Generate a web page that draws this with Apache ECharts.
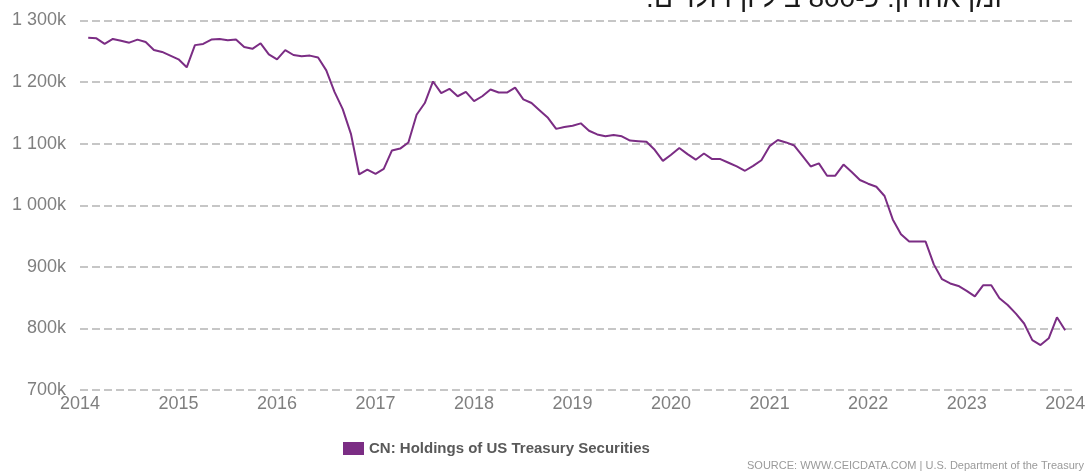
<!DOCTYPE html>
<html>
<head>
<meta charset="utf-8">
<title>CN: Holdings of US Treasury Securities</title>
<script src="https://cdn.jsdelivr.net/npm/echarts@6/dist/echarts.min.js"></script>
<style>
    html, body { margin: 0; padding: 0; background: #fff; }
    #chart { width: 1092px; height: 472px; }
</style>
</head>
<body>
<div id="chart"></div>
<script>
// monthly values, USD bn (shown as "k" of USD mn), Jan 2014 .. Dec 2023
var years = [2014, 2015, 2016, 2017, 2018, 2019, 2020, 2021, 2022, 2023];
var v2014 = [1272, 1271, 1262, 1270, 1267, 1264, 1269, 1265, 1252, 1249, 1243, 1237];
var v2015 = [1224, 1260, 1262, 1269, 1270, 1268, 1269, 1257, 1254, 1263, 1245, 1237];
var v2016 = [1252, 1244, 1242, 1243, 1240, 1219, 1184, 1156, 1116, 1050, 1058, 1051];
var v2017 = [1059, 1089, 1092, 1102, 1147, 1166, 1201, 1182, 1189, 1177, 1184, 1169];
var v2018 = [1177, 1188, 1183, 1183, 1191, 1172, 1166, 1154, 1142, 1124, 1127, 1129];
var v2019 = [1133, 1121, 1115, 1112, 1114, 1112, 1105, 1104, 1103, 1090, 1072, 1082];
var v2020 = [1093, 1083, 1074, 1084, 1075, 1075, 1069, 1063, 1056, 1064, 1073, 1096];
var v2021 = [1106, 1102, 1097, 1080, 1063, 1068, 1048, 1048, 1066, 1054, 1041, 1035];
var v2022 = [1030, 1015, 977, 953, 941, 941, 941, 904, 880, 873, 869, 861];
var v2023 = [852, 870, 870, 849, 838, 824, 808, 781, 773, 784, 818, 797];

var seriesName = 'CN: Holdings of US Treasury Securities';
var yTicks = [700, 800, 900, 1000, 1100, 1200, 1300];
// last line of the (cut off) heading, rtl: the full stop goes on the left
var headline = '.זמן אחרון: כ-800 ביליון דולרים';
var sourceText = 'SOURCE: WWW.CEICDATA.COM | U.S. Department of the Treasury';

var purple = '#7b2d84';
var font = '"Liberation Sans", Arial, sans-serif';

// build [x, value] pairs, point sits at month end
var byYear = [v2014, v2015, v2016, v2017, v2018, v2019, v2020, v2021, v2022, v2023];
var points = [];
byYear.forEach(function (list, i) {
    list.forEach(function (val, m) {
        points.push([years[i] + (m + 1) / 12, val]);
    });
});

function fmtK(v) {
    if (v >= 1000) {
        var rest = String(v % 1000);
        while (rest.length < 3) rest = '0' + rest;
        return Math.floor(v / 1000) + ' ' + rest + 'k';
    }
    return v + 'k';
}

var option = {
    backgroundColor: '#ffffff',
    animation: false,
    textStyle: { fontFamily: font },
    grid: { left: 80, right: 16, top: 20.5, bottom: 82 },
    legend: {
        data: [seriesName],
        left: 343,
        top: 441,
        padding: 0,
        icon: 'rect',
        itemWidth: 21,
        itemHeight: 13,
        itemGap: 5,
        textStyle: { fontFamily: font, fontSize: 15, fontWeight: 'bold', color: '#595959', padding: [0, 0, 0, 0] }
    },
    xAxis: {
        type: 'value',
        min: 2014,
        max: 2024.11,
        interval: 1,
        axisLine: { show: false },
        axisTick: { show: false },
        splitLine: { show: false },
        axisLabel: {
            fontSize: 18,
            color: '#7f7f7f',
            margin: 5,
            formatter: function (v) {
                return Math.abs(v - Math.round(v)) < 1e-6 ? String(Math.round(v)) : '';
            }
        }
    },
    yAxis: {
        type: 'value',
        min: yTicks[0],
        max: yTicks[yTicks.length - 1],
        interval: 100,
        axisLine: { show: false },
        axisTick: { show: false },
        axisLabel: {
            fontSize: 18,
            color: '#7f7f7f',
            margin: 14,
            formatter: fmtK
        },
        splitLine: {
            show: true,
            lineStyle: { color: '#b4b4b4', width: 1.5, type: [8, 4] }
        }
    },
    series: [
        {
            name: seriesName,
            type: 'line',
            data: points,
            symbol: 'none',
            itemStyle: { color: purple },
            lineStyle: { color: purple, width: 2 }
        }
    ],
    graphic: [
        {
            type: 'text',
            right: 89,
            top: -15,
            style: {
                text: headline,
                font: '28px ' + font,
                fill: '#1a1a1a'
            }
        },
        {
            type: 'text',
            right: 8,
            top: 460,
            style: {
                text: sourceText,
                font: '11px ' + font,
                fill: '#9a9a9a'
            }
        }
    ]
};

var myChart = echarts.init(document.getElementById('chart'));
myChart.setOption(option);
</script>
</body>
</html>
